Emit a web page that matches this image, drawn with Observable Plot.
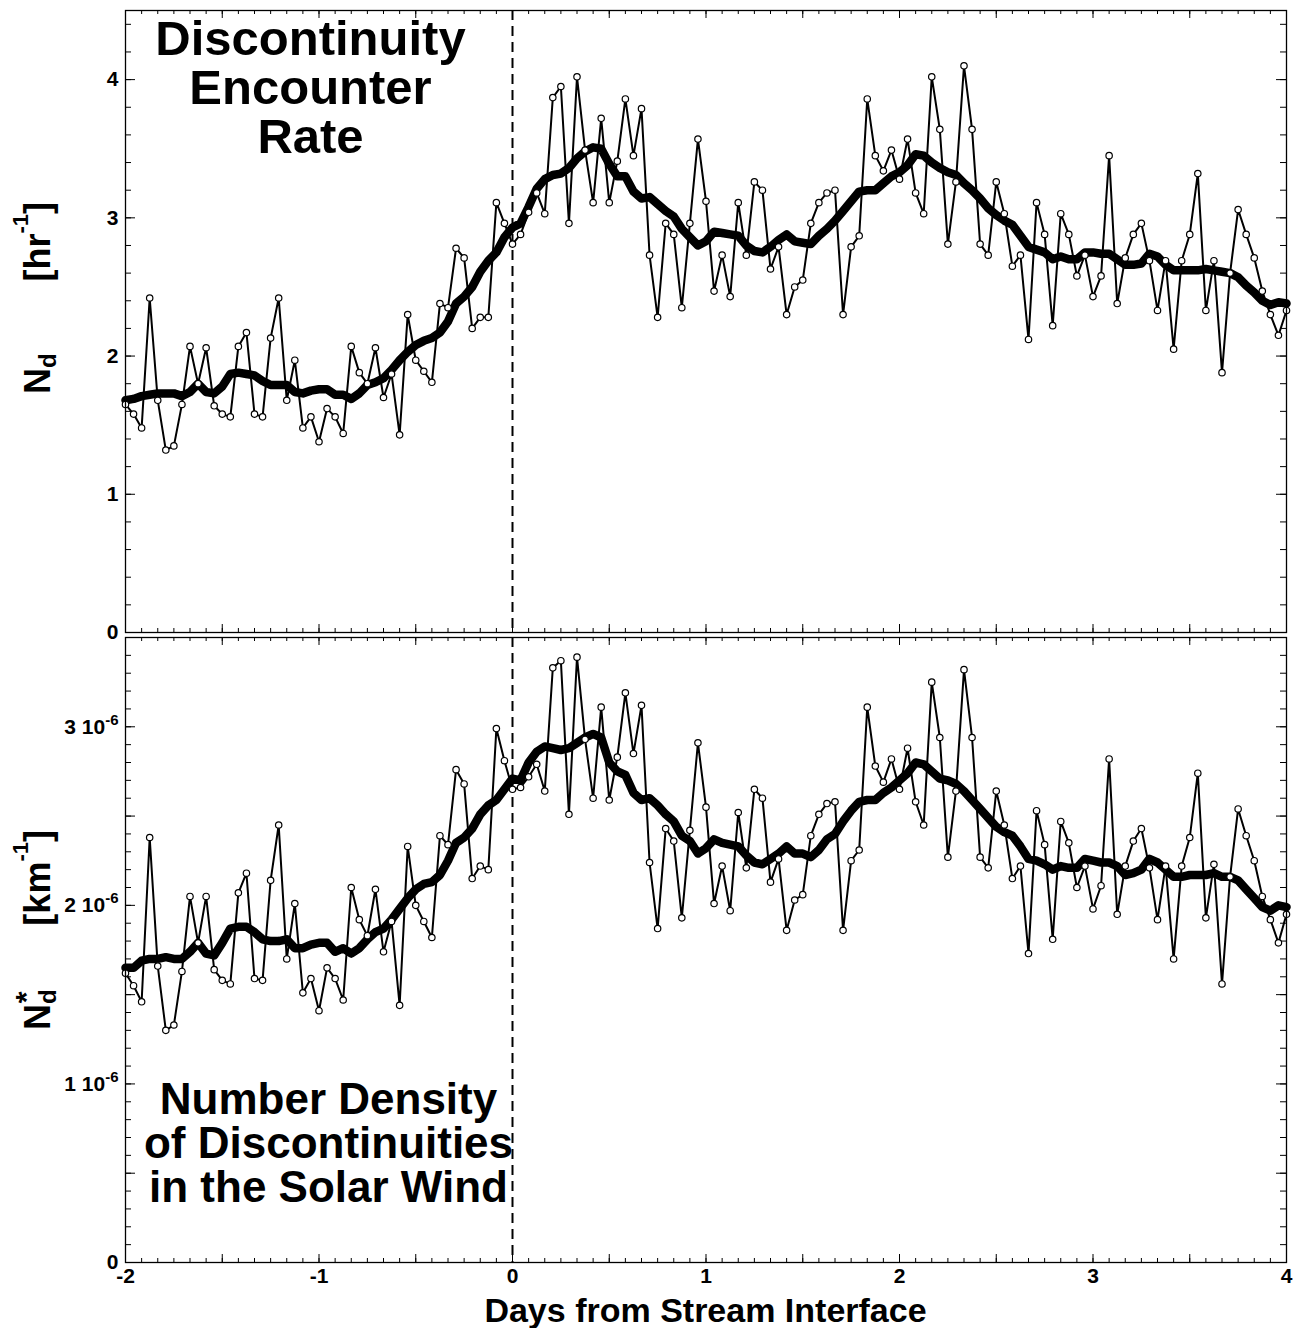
<!DOCTYPE html>
<html>
<head>
<meta charset="utf-8">
<script src="https://cdn.jsdelivr.net/npm/d3@7"></script>
<script src="https://cdn.jsdelivr.net/npm/@observablehq/plot@0.6"></script>
<style>
  html, body { margin: 0; padding: 0; background: #fff; overflow: hidden; }
  #chart { position: relative; width: 1294px; height: 1328px; }
  #chart svg { display: block; max-width: none; }
</style>
</head>
<body>
<div id="chart"></div>
<script>
// Hourly bins, from two days before to four days after the stream interface
const hours = d3.range(-48, 97);

// Discontinuity encounter rate N_d [hr^-1], hourly values
const rate = [
  1.65, 1.58, 1.48, 2.42, 1.68, 1.32, 1.35, 1.65, 2.07, 1.80,
  2.06, 1.64, 1.58, 1.56, 2.07, 2.17, 1.58, 1.56, 2.13, 2.42,
  1.68, 1.97, 1.48, 1.56, 1.38, 1.62, 1.56, 1.44, 2.07, 1.88,
  1.80, 2.06, 1.70, 1.87, 1.43, 2.30, 1.97, 1.89, 1.81, 2.38,
  2.35, 2.78, 2.71, 2.20, 2.28, 2.28, 3.11, 2.96, 2.81, 2.88,
  3.04, 3.18, 3.03, 3.87, 3.95, 2.96, 4.02, 3.49, 3.11, 3.72,
  3.11, 3.41, 3.86, 3.45, 3.79, 2.73, 2.28, 2.96, 2.88, 2.35,
  2.96, 3.57, 3.12, 2.47, 2.73, 2.43, 3.11, 2.73, 3.26, 3.20,
  2.63, 2.79, 2.30, 2.50, 2.55, 2.96, 3.11, 3.18, 3.20, 2.30,
  2.79, 2.87, 3.86, 3.45, 3.34, 3.49, 3.28, 3.57, 3.18, 3.03,
  4.02, 3.64, 2.81, 3.26, 4.10, 3.64, 2.81, 2.73, 3.26, 3.03,
  2.65, 2.73, 2.12, 3.11, 2.88, 2.22, 3.03, 2.88, 2.58, 2.73,
  2.43, 2.58, 3.45, 2.38, 2.71, 2.88, 2.96, 2.69, 2.33, 2.69,
  2.05, 2.69, 2.88, 3.32, 2.33, 2.69, 1.88, 2.60, 3.06, 2.88,
  2.71, 2.47, 2.30, 2.15, 2.33
];

// Running average of the encounter rate
const rateSmooth = [
  1.68, 1.69, 1.71, 1.72, 1.73, 1.73, 1.73, 1.71, 1.74, 1.80,
  1.74, 1.73, 1.78, 1.87, 1.88, 1.87, 1.86, 1.82, 1.79, 1.79,
  1.79, 1.74, 1.73, 1.75, 1.76, 1.76, 1.72, 1.72, 1.69, 1.73,
  1.79, 1.81, 1.84, 1.90, 1.97, 2.03, 2.08, 2.11, 2.13, 2.17,
  2.25, 2.38, 2.43, 2.50, 2.61, 2.69, 2.75, 2.86, 2.93, 2.96,
  3.08, 3.21, 3.28, 3.31, 3.32, 3.36, 3.43, 3.48, 3.51, 3.50,
  3.39, 3.30, 3.30, 3.19, 3.14, 3.15, 3.10, 3.05, 3.01, 2.92,
  2.86, 2.80, 2.83, 2.90, 2.89, 2.88, 2.87, 2.80, 2.76, 2.75,
  2.79, 2.84, 2.88, 2.83, 2.82, 2.81, 2.87, 2.92, 2.98, 3.05,
  3.12, 3.19, 3.20, 3.20, 3.25, 3.30, 3.33, 3.38, 3.46, 3.45,
  3.40, 3.36, 3.33, 3.31, 3.25, 3.20, 3.14, 3.07, 3.02, 2.98,
  2.95, 2.87, 2.79, 2.77, 2.75, 2.70, 2.72, 2.70, 2.70, 2.75,
  2.75, 2.74, 2.74, 2.70, 2.66, 2.66, 2.67, 2.74, 2.72, 2.66,
  2.62, 2.62, 2.62, 2.62, 2.63, 2.62, 2.61, 2.60, 2.57, 2.51,
  2.46, 2.40, 2.37, 2.39, 2.38
];

// Number density of discontinuities N_d* in units of 10^-6 km^-1
const density = [
  1.62, 1.55, 1.46, 2.38, 1.66, 1.30, 1.33, 1.63, 2.05, 1.79,
  2.05, 1.64, 1.58, 1.56, 2.07, 2.18, 1.59, 1.58, 2.14, 2.45,
  1.70, 2.01, 1.51, 1.59, 1.41, 1.65, 1.59, 1.47, 2.10, 1.92,
  1.83, 2.09, 1.74, 1.91, 1.44, 2.33, 2.00, 1.91, 1.82, 2.39,
  2.34, 2.76, 2.68, 2.15, 2.22, 2.20, 2.99, 2.81, 2.65, 2.66,
  2.72, 2.79, 2.64, 3.33, 3.37, 2.51, 3.39, 2.93, 2.60, 3.11,
  2.59, 2.83, 3.19, 2.85, 3.12, 2.24, 1.87, 2.43, 2.36, 1.93,
  2.42, 2.91, 2.55, 2.01, 2.22, 1.97, 2.52, 2.21, 2.65, 2.60,
  2.13, 2.26, 1.86, 2.03, 2.06, 2.39, 2.51, 2.57, 2.58, 1.86,
  2.25, 2.31, 3.11, 2.78, 2.69, 2.82, 2.65, 2.88, 2.58, 2.45,
  3.25, 2.94, 2.27, 2.64, 3.32, 2.94, 2.27, 2.21, 2.64, 2.45,
  2.15, 2.22, 1.73, 2.53, 2.34, 1.81, 2.47, 2.35, 2.10, 2.22,
  1.98, 2.11, 2.82, 1.95, 2.22, 2.36, 2.43, 2.21, 1.92, 2.22,
  1.70, 2.22, 2.38, 2.74, 1.93, 2.23, 1.56, 2.16, 2.54, 2.39,
  2.25, 2.05, 1.92, 1.79, 1.95
];

// Running average of the number density (10^-6 km^-1)
const densitySmooth = [
  1.65, 1.65, 1.69, 1.70, 1.70, 1.71, 1.70, 1.70, 1.74, 1.79,
  1.73, 1.72, 1.79, 1.87, 1.88, 1.88, 1.85, 1.81, 1.80, 1.80,
  1.81, 1.76, 1.76, 1.78, 1.79, 1.79, 1.74, 1.76, 1.73, 1.76,
  1.81, 1.85, 1.87, 1.92, 1.98, 2.04, 2.09, 2.12, 2.13, 2.17,
  2.25, 2.35, 2.38, 2.43, 2.51, 2.56, 2.59, 2.65, 2.71, 2.70,
  2.80, 2.86, 2.89, 2.88, 2.87, 2.88, 2.91, 2.94, 2.96, 2.94,
  2.80, 2.75, 2.73, 2.63, 2.59, 2.60, 2.56, 2.51, 2.47, 2.39,
  2.36, 2.29, 2.32, 2.37, 2.35, 2.34, 2.33, 2.28, 2.24, 2.23,
  2.26, 2.29, 2.33, 2.29, 2.29, 2.27, 2.31, 2.37, 2.40, 2.47,
  2.53, 2.58, 2.59, 2.59, 2.63, 2.66, 2.70, 2.74, 2.80, 2.79,
  2.75, 2.71, 2.70, 2.68, 2.64, 2.59, 2.54, 2.49, 2.44, 2.41,
  2.39, 2.33, 2.26, 2.25, 2.23, 2.20, 2.22, 2.21, 2.21, 2.26,
  2.25, 2.24, 2.24, 2.22, 2.17, 2.18, 2.20, 2.26, 2.24, 2.20,
  2.16, 2.16, 2.17, 2.17, 2.17, 2.18, 2.16, 2.16, 2.14, 2.09,
  2.04, 1.99, 1.97, 2.00, 1.99
];

// Axis ticks
const xLabelTicks = [-2, -1, 0, 1, 2, 3, 4];
const xMajorTicks = d3.range(-2, 4.001, 0.5);
const xMinorTicks = d3.range(0, 73).map(k => -2 + k / 12);
const rateLabelTicks = [0, 1, 2, 3, 4];
const rateMinorTicks = d3.range(0, 23).map(k => k * 0.2);
const densityLabelTicks = [0, 1, 2, 3];
const densityMajorTicks = d3.range(0, 7).map(k => k * 0.5);
const densityMinorTicks = d3.range(0, 35).map(k => k * 0.1);

const FONT = "'Liberation Sans', Arial, Helvetica, sans-serif";
const W = 1294, ML = 125, MR = 8;
const PW = W - ML - MR;

const days = hours.map(h => h / 24);
const rateRows = days.map((d, i) => ({day: d, value: rate[i], smooth: rateSmooth[i]}));
const densityRows = days.map((d, i) => ({day: d, value: density[i], smooth: densitySmooth[i]}));

// Inward-pointing ticks on all four sides of a panel
function frameTicks(plotH, yMinor, yMajor) {
  return [
    Plot.ruleY(yMinor, {y: d => d, insetRight: PW - 6, stroke: "black"}),
    Plot.ruleY(yMajor, {y: d => d, insetRight: PW - 10, stroke: "black"}),
    Plot.ruleY(yMinor, {y: d => d, insetLeft: PW - 6, stroke: "black"}),
    Plot.ruleY(yMajor, {y: d => d, insetLeft: PW - 10, stroke: "black"}),
    Plot.ruleX(xMinorTicks, {x: d => d, insetTop: plotH - 4, stroke: "black"}),
    Plot.ruleX(xMajorTicks, {x: d => d, insetTop: plotH - 8, stroke: "black"}),
    Plot.ruleX(xMinorTicks, {x: d => d, insetBottom: plotH - 4, stroke: "black"}),
    Plot.ruleX(xMajorTicks, {x: d => d, insetBottom: plotH - 8, stroke: "black"})
  ];
}

function seriesMarks(rows) {
  return [
    Plot.ruleX([0], {x: d => d, stroke: "black", strokeWidth: 2, strokeDasharray: "10,6"}),
    Plot.line(rows, {x: "day", y: "value", stroke: "black", strokeWidth: 2}),
    Plot.line(rows, {x: "day", y: "smooth", stroke: "black", strokeWidth: 8.5, strokeLinejoin: "round"}),
    Plot.dot(rows, {x: "day", y: "value", r: 3.2, fill: "white", stroke: "black", strokeWidth: 1.2})
  ];
}

const baseStyle = {fontFamily: FONT, fontSize: "21px", fontWeight: "bold", color: "black", background: "white", overflow: "visible"};

// Upper panel: encounter rate
const TOP_H = 634, TOP_MT = 10, TOP_MB = 2;
const topPlot = Plot.plot({
  width: W, height: TOP_H,
  marginLeft: ML, marginRight: MR, marginTop: TOP_MT, marginBottom: TOP_MB,
  style: baseStyle,
  x: {domain: [-2, 4], axis: null},
  y: {domain: [0, 4.5]},
  marks: [
    ...frameTicks(TOP_H - TOP_MT - TOP_MB, rateMinorTicks, rateLabelTicks),
    ...seriesMarks(rateRows),
    Plot.frame({stroke: "black", strokeWidth: 1.3}),
    Plot.axisY({ticks: rateLabelTicks, tickSize: 0, tickPadding: 7, label: null, tickFormat: d => String(d)}),
    Plot.text(["Discontinuity\nEncounter\nRate"], {
      text: d => d, frameAnchor: "top-left", dx: 185, dy: 10,
      textAnchor: "middle", lineAnchor: "top", lineHeight: 1.0,
      fontSize: 49, fontWeight: "bold", fill: "black"
    })
  ]
});

// Lower panel: number density
const BOT_H = 694, BOT_MT = 3, BOT_MB = 66;
const bottomPlot = Plot.plot({
  width: W, height: BOT_H,
  marginLeft: ML, marginRight: MR, marginTop: BOT_MT, marginBottom: BOT_MB,
  style: baseStyle,
  x: {domain: [-2, 4]},
  y: {domain: [0, 3.5]},
  marks: [
    ...frameTicks(BOT_H - BOT_MT - BOT_MB, densityMinorTicks, densityMajorTicks),
    ...seriesMarks(densityRows),
    Plot.frame({stroke: "black", strokeWidth: 1.3}),
    Plot.axisY({ticks: densityLabelTicks, tickSize: 0, tickPadding: 7, label: null,
      tickFormat: d => d === 0 ? "0" : `${d} 10`}),
    Plot.axisX({ticks: xLabelTicks, tickSize: 0, tickPadding: 6, label: null, tickFormat: d => String(d)}),
    Plot.text(["Number Density\nof Discontinuities\nin the Solar Wind"], {
      text: d => d, frameAnchor: "top-left", dx: 203, dy: 445,
      textAnchor: "middle", lineAnchor: "top", lineHeight: 1.0,
      fontSize: 44, fontWeight: "bold", fill: "black"
    })
  ]
});

const chart = document.getElementById("chart");
chart.appendChild(topPlot);
chart.appendChild(bottomPlot);

// Exponent on the density tick labels: "n 10" followed by a raised -6
d3.select(bottomPlot).selectAll("text").each(function() {
  const el = d3.select(this);
  if (/^\d 10$/.test(el.text())) {
    el.append("tspan").attr("dy", -9).attr("font-size", 15).text("-6");
  }
});

// Rotated axis titles with sub- and superscripts
function yTitle(svg, cy) {
  return d3.select(svg).append("text")
    .attr("transform", `translate(50,${cy}) rotate(-90)`)
    .attr("text-anchor", "middle")
    .attr("font-family", FONT).attr("font-weight", "bold")
    .attr("font-size", 36).attr("fill", "black");
}

const t1 = yTitle(topPlot, 298);
t1.append("tspan").text("N");
t1.append("tspan").attr("font-size", 24).attr("dy", 6).text("d");
t1.append("tspan").attr("dx", 72).attr("dy", -6).text("[hr");
t1.append("tspan").attr("font-size", 22).attr("dy", -22).text("-1");
t1.append("tspan").attr("dy", 22).text("]");

const t2 = yTitle(bottomPlot, 930 - 634);
t2.append("tspan").text("N");
t2.append("tspan").attr("font-size", 24).attr("dy", 6).text("d");
t2.append("tspan").attr("font-size", 30).attr("dx", -14).attr("dy", -20).text("*");
t2.append("tspan").attr("dx", 66).attr("dy", 14).text("[km");
t2.append("tspan").attr("font-size", 22).attr("dy", -22).text("-1");
t2.append("tspan").attr("dy", 22).text("]");

// x-axis title
d3.select(bottomPlot).append("text")
  .attr("x", ML + PW / 2).attr("y", 1322 - 634)
  .attr("text-anchor", "middle")
  .attr("font-family", FONT).attr("font-weight", "bold")
  .attr("font-size", 34).attr("fill", "black")
  .text("Days from Stream Interface");
</script>
</body>
</html>
